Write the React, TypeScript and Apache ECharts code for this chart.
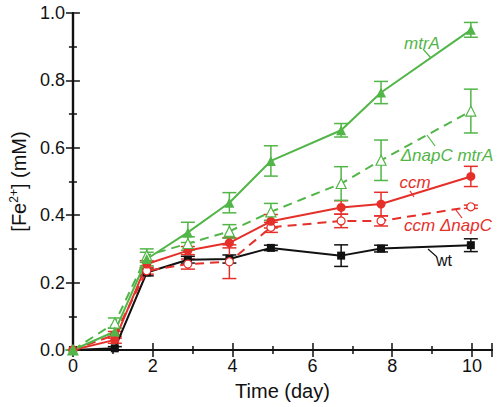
import React, { useEffect, useRef } from "react";
import * as echarts from "echarts";

const days = [0, 1.05, 1.85, 2.88, 3.92, 4.96, 6.72, 7.72, 9.97];

const wt = [0, 0.005, 0.23, 0.268, 0.27, 0.303, 0.28, 0.301, 0.311];
const wtErr = [0, 0.005, 0.01, 0.01, 0.012, 0.008, 0.032, 0.01, 0.019];

const ccm = [0, 0.03, 0.255, 0.295, 0.318, 0.382, 0.423, 0.433, 0.515];
const ccmErr = [0, 0.01, 0.01, 0.012, 0.015, 0.02, 0.02, 0.035, 0.03];

const ccmNapC = [0, 0.045, 0.235, 0.255, 0.262, 0.364, 0.383, 0.383, 0.425];
const ccmNapCErr = [0, 0.01, 0.01, 0.015, 0.05, 0.015, 0.02, 0.015, 0.005];

const mtrA = [0, 0.055, 0.27, 0.349, 0.437, 0.561, 0.652, 0.764, 0.95];
const mtrAErr = [0, 0.01, 0.02, 0.03, 0.03, 0.045, 0.02, 0.033, 0.022];

const napCmtrA = [0, 0.08, 0.28, 0.316, 0.352, 0.41, 0.494, 0.563, 0.709];
const napCmtrAErr = [0, 0.015, 0.02, 0.02, 0.02, 0.025, 0.05, 0.06, 0.065];

const xTicks = [0, 2, 4, 6, 8, 10];
const yTicks = [0, 0.2, 0.4, 0.6, 0.8, 1.0];

const GREEN = "#52b548";
const RED = "#e5302a";
const BLACK = "#111111";
const FONT = "'Liberation Sans', Arial, sans-serif";

function lineSeries(name: string, vals: number[], color: string, symbol: string, open: boolean, dashed: boolean, size: number) {
  return {
    name,
    type: "line",
    data: days.map((d, i) => [d, vals[i]]),
    symbol,
    symbolSize: size,
    showAllSymbol: true,
    lineStyle: { color, width: 2, type: dashed ? [9, 6] : "solid" },
    itemStyle: { color: open ? "#ffffff" : color, borderColor: color, borderWidth: open ? 1.2 : 0 },
    z: 3,
  };
}

function errSeries(vals: number[], errs: number[], color: string) {
  return {
    type: "custom",
    data: days.map((d, i) => [d, vals[i] - errs[i], vals[i] + errs[i]]),
    encode: { x: 0, y: [1, 2] },
    z: 2,
    renderItem: (params: any, api: any) => {
      const x = api.value(0);
      const lo = api.coord([x, api.value(1)]);
      const hi = api.coord([x, api.value(2)]);
      const half = 7;
      const st = { stroke: color, lineWidth: 1.5 };
      return {
        type: "group",
        children: [
          { type: "line", shape: { x1: lo[0], y1: lo[1], x2: hi[0], y2: hi[1] }, style: st },
          { type: "line", shape: { x1: lo[0] - half, y1: lo[1], x2: lo[0] + half, y2: lo[1] }, style: st },
          { type: "line", shape: { x1: hi[0] - half, y1: hi[1], x2: hi[0] + half, y2: hi[1] }, style: st },
        ],
      };
    },
  };
}

export default function App() {
  const ref = useRef<HTMLDivElement>(null);
  useEffect(() => {
    if (!ref.current) return;
    const chart = echarts.init(ref.current, null, { renderer: "svg" });
    const axisLine = { show: true, lineStyle: { color: BLACK, width: 2.2 } };
    const tick = { show: true, inside: true, length: 7, lineStyle: { color: BLACK, width: 1.5 } };
    const minor = { show: true, splitNumber: 2, length: 4, lineStyle: { color: BLACK, width: 1.5 } };
    const label = { color: BLACK, fontSize: 18, fontFamily: FONT };
    const option: any = {
      animation: false,
      backgroundColor: "#ffffff",
      grid: { left: 70, right: 8, top: 13, bottom: 57, containLabel: false },
      xAxis: [
        {
          type: "value",
          min: 0,
          max: 10.5,
          interval: 2,
          axisLine,
          axisTick: tick,
          minorTick: minor,
          splitLine: { show: false },
          axisLabel: {
            ...label,
            margin: 7,
            showMaxLabel: false,
            formatter: (v: number) => (xTicks.includes(v) ? String(v) : ""),
          },
          name: "Time (day)",
          nameLocation: "middle",
          nameGap: 31,
          nameTextStyle: { color: BLACK, fontSize: 20, fontFamily: FONT },
        },
        {
          type: "value",
          position: "top",
          min: 0,
          max: 10.5,
          interval: 2,
          axisLine,
          axisTick: tick,
          minorTick: minor,
          splitLine: { show: false },
          axisLabel: { show: false },
        },
      ],
      yAxis: [
        {
          type: "value",
          min: 0,
          max: 1,
          interval: 0.2,
          axisLine,
          axisTick: tick,
          minorTick: minor,
          splitLine: { show: false },
          axisLabel: {
            ...label,
            margin: 8,
            formatter: (v: number) => (yTicks.some((t) => Math.abs(t - v) < 1e-9) ? v.toFixed(1) : ""),
          },
          name: "[Fe{sup|2+}] (mM)",
          nameLocation: "middle",
          nameGap: 42,
          nameRotate: 90,
          nameTextStyle: {
            color: BLACK,
            fontSize: 20,
            fontFamily: FONT,
            rich: { sup: { fontSize: 12, fontFamily: FONT, color: BLACK, padding: [0, 0, 10, 0] } },
          },
        },
        {
          type: "value",
          position: "right",
          min: 0,
          max: 1,
          interval: 0.2,
          axisLine,
          axisTick: tick,
          minorTick: minor,
          splitLine: { show: false },
          axisLabel: { show: false },
        },
      ],
      series: [
        errSeries(wt, wtErr, BLACK),
        errSeries(ccmNapC, ccmNapCErr, RED),
        errSeries(ccm, ccmErr, RED),
        errSeries(napCmtrA, napCmtrAErr, GREEN),
        errSeries(mtrA, mtrAErr, GREEN),
        lineSeries("wt", wt, BLACK, "rect", false, false, 8),
        lineSeries("ccm ΔnapC", ccmNapC, RED, "circle", true, true, 8),
        lineSeries("ccm", ccm, RED, "circle", false, false, 9),
        lineSeries("ΔnapC mtrA", napCmtrA, GREEN, "triangle", true, true, 10),
        lineSeries("mtrA", mtrA, GREEN, "triangle", false, false, 10),
      ],
      graphic: [
        { type: "text", x: 422, y: 43, style: { text: "mtrA", fill: GREEN, font: `italic 17px ${FONT}`, textAlign: "center", textVerticalAlign: "middle" } },
        { type: "line", shape: { x1: 423, y1: 49, x2: 431, y2: 58 }, style: { stroke: GREEN, lineWidth: 1.2 } },
        { type: "text", x: 447, y: 155, style: { text: "ΔnapC mtrA", fill: GREEN, font: `italic 17px ${FONT}`, textAlign: "center", textVerticalAlign: "middle" } },
        { type: "line", shape: { x1: 427, y1: 135, x2: 435, y2: 146 }, style: { stroke: GREEN, lineWidth: 1.2 } },
        { type: "text", x: 415, y: 182, style: { text: "ccm", fill: RED, font: `italic 17px ${FONT}`, textAlign: "center", textVerticalAlign: "middle" } },
        { type: "line", shape: { x1: 410, y1: 191, x2: 414, y2: 197 }, style: { stroke: RED, lineWidth: 1.2 } },
        { type: "text", x: 448, y: 225, style: { text: "ccm ΔnapC", fill: RED, font: `italic 17px ${FONT}`, textAlign: "center", textVerticalAlign: "middle" } },
        { type: "line", shape: { x1: 456, y1: 210, x2: 462, y2: 218 }, style: { stroke: RED, lineWidth: 1.2 } },
        { type: "text", x: 444, y: 260, style: { text: "wt", fill: BLACK, font: `16px ${FONT}`, textAlign: "center", textVerticalAlign: "middle" } },
        { type: "line", shape: { x1: 428, y1: 249, x2: 437, y2: 257 }, style: { stroke: BLACK, lineWidth: 1.2 } },
      ],
    };
    chart.setOption(option);
    return () => chart.dispose();
  }, []);
  return <div ref={ref} style={{ width: 500, height: 407, position: "absolute", left: 0, top: 0 }} />;
}
